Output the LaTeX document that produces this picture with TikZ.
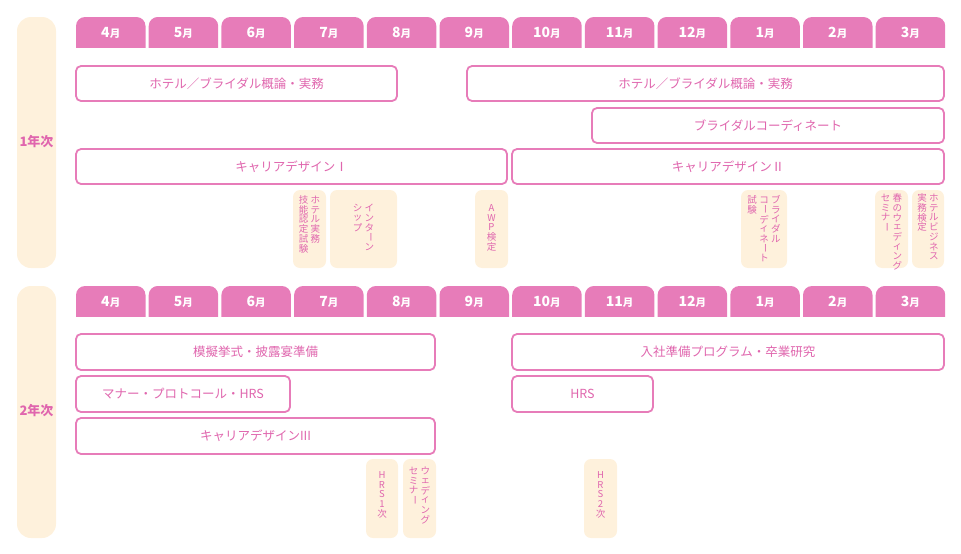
\documentclass[tikz,border=0pt]{standalone}
\usepackage{fontspec}
\setmainfont{Noto Sans CJK JP}
\newcommand\jpb{\bfseries}
\definecolor{pk}{HTML}{E77CB9}
\definecolor{pkt}{HTML}{E066AE}
\definecolor{cr}{HTML}{FEF1DC}
\ExplSyntaxOn
\NewDocumentCommand\vcolumn{m}{
  \vtop{\offinterlineskip\hrule height0pt
    \tl_map_inline:nn {#1}{
      \vbox to 1.02em{\vss
      \str_if_eq:nnTF {##1}{ー}
        {\hbox to 1.25em{\hss\rotatebox[origin=c]{-90}{ー}\hss}}
        {\hbox to 1.25em{\hss ##1\hss}}
      \vss}}}}
\ExplSyntaxOff
\newcommand\vtwo[2]{\hbox{\vcolumn{#2}\vcolumn{#1}}}
\newcommand\vthree[3]{\hbox{\vcolumn{#3}\vcolumn{#2}\vcolumn{#1}}}
\tikzset{
  tab/.style={fill=pk, rounded corners=9pt},
  bar/.style={draw=pk, line width=1.8pt, fill=white, rounded corners=5pt},
  small/.style={fill=cr, rounded corners=7pt},
  bartxt/.style={text=pkt, font=\fontsize{12.5}{14}\selectfont},
  vtxt/.style={text=pkt, font=\fontsize{9.5}{10}\selectfont, anchor=north, inner sep=0pt},
}
\begin{document}
\begin{tikzpicture}[x=1pt,y=-1pt]
\useasboundingbox (0,0) rectangle (961,554);
% year pills
\fill[cr, rounded corners=14pt] (17,17) rectangle (56,268);
\fill[cr, rounded corners=14pt] (17,286) rectangle (56,538);
\node[text=pkt, font=\jpb\fontsize{13}{15}\selectfont] (y1) at (36.5,142) {1年次};
\node[text=pkt, font=\jpb\fontsize{13}{15}\selectfont] (y2) at (36.5,411) {2年次};
% month tabs
\foreach \m [count=\i from 0] in {4,5,6,7,8,9,10,11,12,1,2,3}{
  \pgfmathsetmacro\xa{76+72.7*\i}
  \pgfmathsetmacro\xb{\xa+69.5}
  \begin{scope}
  \clip (\xa,17) rectangle (\xb,47);
  \fill[tab] (\xa,17) rectangle (\xb,60);
  \end{scope}
  \node[text=white, font=\jpb\fontsize{14}{16}\selectfont] (ta\i) at ({(\xa+\xb)/2},32.5) {\m\fontsize{10.5}{12}\selectfont 月};
  \begin{scope}
  \clip (\xa,286) rectangle (\xb,316);
  \fill[tab] (\xa,286) rectangle (\xb,330);
  \end{scope}
  \node[text=white, font=\jpb\fontsize{14}{16}\selectfont] (tb\i) at ({(\xa+\xb)/2},301.5) {\m\fontsize{10.5}{12}\selectfont 月};
}
% year 1 bars
\draw[bar] (76,66) rectangle (397,101) node[midway,bartxt] (b1) {ホテル／ブライダル概論・実務};
\draw[bar] (467,66) rectangle (944,101) node[midway,bartxt] (b2) {ホテル／ブライダル概論・実務};
\draw[bar] (592,108) rectangle (944,143) node[midway,bartxt] (b3) {ブライダルコーディネート};
\draw[bar] (76,149) rectangle (507,184) node[midway,bartxt] (b4) {キャリアデザインⅠ};
\draw[bar] (512,149) rectangle (944,184) node[midway,bartxt] (b5) {キャリアデザインⅡ};
% year 1 small
\fill[small] (293,190) rectangle (326,268);
\node[vtxt] (s1) at (309.5,195) {\vtwo{ホテル実務}{技能認定試験}};
\fill[small] (330,190) rectangle (397,268);
\node[vtxt] (s2) at (363.5,203) {\vtwo{インターン}{シップ}};
\fill[small] (475,190) rectangle (508,268);
\node[vtxt] (s3) at (491.5,203) {\vcolumn{AWP検定}};
\fill[small] (741,190) rectangle (787,268);
\node[vtxt] (s4) at (764,195) {\vthree{ブライダル}{コーディネート}{試験}};
\fill[small] (875,190) rectangle (908,268);
\node[vtxt] (s5) at (891.5,193) {\vtwo{春のウェディング}{セミナー}};
\fill[small] (912,190) rectangle (944,268);
\node[vtxt] (s6) at (928,193) {\vtwo{ホテルビジネス}{実務検定}};
% year 2 bars
\draw[bar] (76,334) rectangle (435,370) node[midway,bartxt] (c1) {模擬挙式・披露宴準備};
\draw[bar] (512,334) rectangle (944,370) node[midway,bartxt] (c2) {入社準備プログラム・卒業研究};
\draw[bar] (76,376) rectangle (290,412) node[midway,bartxt] (c3) {マナー・プロトコール・HRS};
\draw[bar] (512,376) rectangle (653,412) node[midway,bartxt] (c4) {HRS};
\draw[bar] (76,418) rectangle (435,454) node[midway,bartxt] (c5) {キャリアデザインIII};
% year 2 small
\fill[small] (366,459) rectangle (398,538);
\node[vtxt] (d1) at (382,470) {\vcolumn{HRS1次}};
\fill[small] (403,459) rectangle (436,538);
\node[vtxt] (d2) at (419.5,466) {\vtwo{ウェディング}{セミナー}};
\fill[small] (584,459) rectangle (617,538);
\node[vtxt] (d3) at (600.5,470) {\vcolumn{HRS2次}};
\end{tikzpicture}
\end{document}
